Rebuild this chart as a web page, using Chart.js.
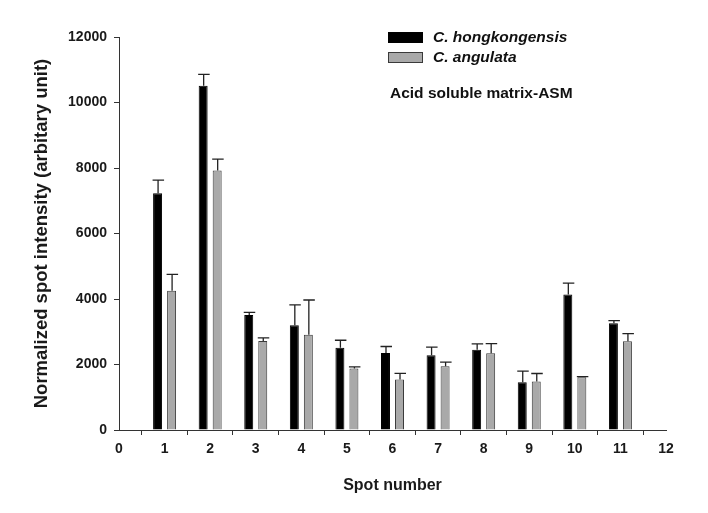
<!DOCTYPE html>
<html>
<head>
<meta charset="utf-8">
<script src="https://cdn.jsdelivr.net/npm/chart.js@4"></script>
<style>
  html, body { margin: 0; padding: 0; background: #fff; }
  #wrap { width: 708px; height: 513px; }
</style>
</head>
<body>
<div id="wrap"><canvas id="spot-chart"></canvas></div>
<script>
const spots = ['0', '1', '2', '3', '4', '5', '6', '7', '8', '9', '10', '11', '12'];
const hongkongensis = [null, 7230, 10510, 3510, 3200, 2510, 2350, 2280, 2450, 1460, 4140, 3260, null];
const hongkongensisErr = [null, 400, 350, 80, 620, 230, 200, 250, 180, 340, 345, 80, null];
const angulata = [null, 4250, 7920, 2720, 2910, 1880, 1540, 1950, 2340, 1480, 1610, 2710, null];
const angulataErr = [null, 500, 350, 90, 1060, 50, 190, 120, 300, 245, 20, 230, null];
const yTicks = [0, 2000, 4000, 6000, 8000, 10000, 12000];

const fontName = '"Liberation Sans", Arial, sans-serif';

// upward error bars with a cap
const errorBars = {
    id: 'errorBars',
    afterDatasetsDraw(chart) {
        const ctx = chart.ctx;
        const y = chart.scales.y;
        ctx.save();
        ctx.strokeStyle = '#222';
        ctx.lineWidth = 1.3;
        chart.data.datasets.forEach((ds, i) => {
            chart.getDatasetMeta(i).data.forEach((bar, j) => {
                const v = ds.data[j];
                if (v == null) return;
                const top = y.getPixelForValue(v + ds.errors[j]);
                const cx = bar.x + 0.5;
                ctx.beginPath();
                ctx.moveTo(cx, bar.y);
                ctx.lineTo(cx, top);
                ctx.moveTo(cx - 5.5, top);
                ctx.lineTo(cx + 6, top);
                ctx.stroke();
            });
        });
        ctx.restore();
    }
};

// legend boxes and the note in the upper right
const boxLegend = {
    id: 'boxLegend',
    afterDraw(chart) {
        const ctx = chart.ctx;
        ctx.save();
        chart.data.datasets.forEach((ds, i) => {
            const top = 32 + i * 20;
            ctx.fillStyle = ds.backgroundColor;
            ctx.fillRect(388, top, 35, 11);
            ctx.strokeStyle = ds.borderColor;
            ctx.lineWidth = 1;
            ctx.strokeRect(388.5, top + 0.5, 34, 10);
            ctx.fillStyle = '#111';
            ctx.font = 'italic bold 15.5px ' + fontName;
            ctx.textBaseline = 'middle';
            ctx.fillText(ds.label, 433, top + 6);
        });
        ctx.font = 'bold 15.5px ' + fontName;
        ctx.textBaseline = 'middle';
        ctx.fillText('Acid soluble matrix-ASM', 390, 94);
        ctx.restore();
    }
};

const ctx = document.getElementById('spot-chart').getContext('2d');
new Chart(ctx, {
    type: 'bar',
    data: {
        labels: spots,
        datasets: [{
            label: 'C. hongkongensis',
            data: hongkongensis,
            errors: hongkongensisErr,
            backgroundColor: '#000000',
            borderColor: '#000000',
            borderWidth: 1
        }, {
            label: 'C. angulata',
            data: angulata,
            errors: angulataErr,
            backgroundColor: '#a9a9a9',
            borderColor: '#3a3a3a',
            borderWidth: 1
        }]
    },
    plugins: [errorBars, boxLegend],
    options: {
        responsive: true,
        maintainAspectRatio: false,
        animation: false,
        categoryPercentage: 0.615,
        barPercentage: 0.64,
        layout: {
            padding: { top: 37, right: 42, bottom: 18, left: 31 }
        },
        plugins: {
            legend: { display: false },
            tooltip: { enabled: false }
        },
        scales: {
            x: {
                offset: false,
                afterFit(scale) { scale.height = 65; },
                border: { display: true, color: '#333', width: 1 },
                grid: { display: true, drawOnChartArea: false, drawTicks: true, tickLength: 5, color: '#333' },
                ticks: {
                    color: '#1a1a1a',
                    padding: 6,
                    maxRotation: 0,
                    autoSkip: false,
                    font: { family: fontName, size: 14, weight: 'bold' }
                },
                title: {
                    display: true,
                    text: 'Spot number',
                    color: '#1a1a1a',
                    padding: { top: 10, bottom: 0 },
                    font: { family: fontName, size: 16, weight: 'bold' }
                }
            },
            y: {
                min: 0,
                max: 12000,
                afterFit(scale) { scale.width = 88; },
                afterBuildTicks(scale) { scale.ticks = yTicks.map(v => ({ value: v })); },
                border: { display: true, color: '#333', width: 1 },
                grid: { display: true, drawOnChartArea: false, drawTicks: true, tickLength: 5, color: '#333' },
                ticks: {
                    color: '#1a1a1a',
                    padding: 7,
                    callback: v => String(v),
                    font: { family: fontName, size: 14, weight: 'bold' }
                },
                title: {
                    display: true,
                    text: 'Normalized spot intensity (arbitary unit)',
                    color: '#1a1a1a',
                    padding: { top: 0, bottom: 0 },
                    font: { family: fontName, size: 18.5, weight: 'bold' }
                }
            }
        }
    }
});
</script>
</body>
</html>
